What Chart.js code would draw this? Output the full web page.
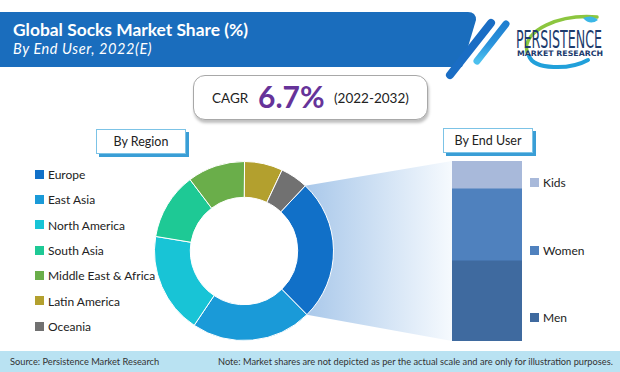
<!DOCTYPE html>
<html><head><meta charset="utf-8">
<script src="https://cdn.jsdelivr.net/npm/chart.js@4.4.1/dist/chart.umd.min.js"></script>
<style>
html,body{margin:0;padding:0;background:#fff;}
#wrap{position:relative;width:620px;height:372px;overflow:hidden;background:#fff;font-family:Lato,'Open Sans',sans-serif;color:#222;}
.abs{position:absolute;}
#title{left:13px;top:19px;color:#fff;font-weight:bold;font-size:17.4px;white-space:nowrap;}
#subtitle{left:13px;top:40px;color:#fff;font-style:italic;font-size:14.5px;letter-spacing:0.6px;white-space:nowrap;}
#cagr{left:193px;top:75px;width:233px;height:43px;border:1.5px solid #a8a8a8;border-radius:12px;box-shadow:1px 3px 3px rgba(0,0,0,0.25);background:#fff;}
#cagr span{position:absolute;white-space:nowrap;}
.tag{background:#fff;border:1px solid #7cc3e6;box-shadow:3px 3px 0 #3a9ed6;font-size:12.5px;text-align:center;line-height:23px;height:23px;color:#222;}
.leg{position:absolute;white-space:nowrap;font-size:12px;color:#222;}
.leg i{position:absolute;left:0;top:50%;width:9px;height:9px;margin-top:-4.5px;}
.leg b{font-weight:normal;position:absolute;left:13px;top:50%;transform:translateY(-50%);}
#footer{left:0;top:351px;width:620px;height:21px;background:#b9e2f2;font-size:9.25px;color:#333;}
#footer span{position:absolute;top:4.5px;white-space:nowrap;}
canvas{position:absolute;}
</style></head>
<body>
<div id="wrap">
  <svg class="abs" style="left:0;top:0" width="620" height="90">
    <defs>
      <linearGradient id="s2" x1="0" y1="0" x2="0" y2="1">
        <stop offset="0" stop-color="#1f7fd0"/><stop offset="0.55" stop-color="#2a93dc"/><stop offset="1" stop-color="#4cc0ee"/>
      </linearGradient>
    </defs>
    <path d="M0,12 H468 Q476,12 476,20 L462,67 H0 Z" fill="#1a6dbd"/>
    <line x1="491" y1="23" x2="450" y2="75" stroke="#1a6dc4" stroke-width="8" stroke-linecap="round"/>
    <line x1="506" y1="24" x2="477" y2="61" stroke="url(#s2)" stroke-width="7" stroke-linecap="round"/>
    <!-- logo -->
    <path d="M527,52 C522,30 560,14 597,17" fill="none" stroke="#8cc63f" stroke-width="3.5" stroke-linecap="round"/>
    <path d="M583,18 Q592,14 598,20 Q590,26 583,18 Z" fill="#3bb7e6"/>
    <path d="M529,56 C534,70 570,70 588,60" fill="none" stroke="#21a0da" stroke-width="4" stroke-linecap="round"/>
    <text x="516" y="48" font-family="'DejaVu Sans Condensed','DejaVu Sans',sans-serif" font-size="24" fill="#1d3b6d" textLength="86" lengthAdjust="spacingAndGlyphs">PERSISTENCE</text>
    <text x="517" y="56" font-family="'DejaVu Sans',sans-serif" font-weight="bold" font-size="7.5" fill="#1d3b6d" textLength="86" lengthAdjust="spacingAndGlyphs">MARKET RESEARCH</text>
  </svg>
  <div id="title" class="abs">Global Socks Market Share (%)</div>
  <div id="subtitle" class="abs">By End User, 2022(E)</div>

  <div id="cagr" class="abs">
    <span style="left:18px;top:14px;font-size:13.5px;">CAGR</span>
    <span style="left:64px;top:2px;font-size:30px;font-weight:bold;color:#663399;">6.7%</span>
    <span style="left:140px;top:14px;font-size:13.5px;">(2022-2032)</span>
  </div>

  <div class="abs tag" style="left:96px;top:129px;width:88px;">By Region</div>
  <div class="abs tag" style="left:443px;top:128px;width:88px;">By End User</div>

  <div id="legLeft"></div>
  <div id="legRight"></div>

  <canvas id="bar" width="330" height="200" style="left:290px;top:150px;width:330px;height:200px;z-index:1"></canvas>
  <canvas id="donut" width="184" height="184" style="left:152px;top:159px;width:184px;height:184px;z-index:2"></canvas>

  <div id="footer" class="abs">
    <span style="left:10px;">Source: Persistence Market Research</span>
    <span style="left:218px;">Note: Market shares are not depicted as per the actual scale and are only for illustration purposes.</span>
  </div>
</div>
<script>
// ---- data ----
const regions = ['Europe','East Asia','North America','South Asia','Middle East & Africa','Latin America','Oceania'];
const regionShares = [25.6, 21.8, 18.2, 12.1, 10.4, 6.9, 5.0];
const regionColors = ['#1170c8','#1a9ad8','#18c4d6','#1ec995','#6aae4a','#b3a02e','#717171'];

const endUsers = ['Men','Women','Kids'];
const endUserShares = [44.5, 40.0, 15.5];
const endUserColors = ['#3f6a9f','#4f81be','#a8b9da'];
const barCategory = ['End User'];

// ---- legends (HTML text) ----
const legLeft = document.getElementById('legLeft');
regions.forEach((r,i)=>{
  const d=document.createElement('div');
  d.className='leg';
  d.style.left='35px'; d.style.top=(174+i*25.35-8)+'px'; d.style.height='16px'; d.style.width='150px';
  d.innerHTML='<i style="background:'+regionColors[i]+'"></i><b>'+r+'</b>';
  legLeft.appendChild(d);
});
const legRight = document.getElementById('legRight');
const rightRows = {Kids:182, Women:250, Men:317};
endUsers.forEach((u,i)=>{
  const d=document.createElement('div');
  d.className='leg';
  d.style.left='530px'; d.style.top=(rightRows[u]-8)+'px'; d.style.height='16px'; d.style.width='80px';
  d.innerHTML='<i style="background:'+endUserColors[i]+'"></i><b>'+u+'</b>';
  legRight.appendChild(d);
});

// ---- doughnut ----
const donutCanvas = document.getElementById('donut');
const donut = new Chart(donutCanvas, {
  type:'doughnut',
  data:{labels:regions, datasets:[{data:regionShares, backgroundColor:regionColors, borderColor:'#ffffff', borderWidth:1}]},
  options:{
    responsive:false, animation:false, rotation:43.2, cutout:'60%',
    layout:{padding:2},
    plugins:{legend:{display:false}, tooltip:{enabled:false}}
  }
});

// ---- stacked bar with connector wedge ----
const barCanvas = document.getElementById('bar');
const wedgePlugin = {
  id:'wedge',
  beforeDatasetsDraw(chart){
    const arc = donut.getDatasetMeta(0).data[0];
    if(!arc) return;
    const dx = donutCanvas.offsetLeft - barCanvas.offsetLeft;
    const dy = donutCanvas.offsetTop - barCanvas.offsetTop;
    const R = arc.outerRadius;
    const p1 = {x: dx + arc.x + R*Math.cos(arc.startAngle), y: dy + arc.y + R*Math.sin(arc.startAngle)};
    const p2 = {x: dx + arc.x + R*Math.cos(arc.endAngle), y: dy + arc.y + R*Math.sin(arc.endAngle)};
    const topEl = chart.getDatasetMeta(endUsers.length-1).data[0];
    const botEl = chart.getDatasetMeta(0).data[0];
    const left = topEl.x - topEl.width/2;
    const top = topEl.y, bottom = botEl.base;
    const ctx = chart.ctx;
    ctx.save();
    const g = ctx.createLinearGradient(Math.min(p1.x,p2.x),0,left,0);
    g.addColorStop(0,'#a9c8ea'); g.addColorStop(1,'#f6fafe');
    ctx.fillStyle = g;
    ctx.beginPath();
    ctx.moveTo(p1.x,p1.y); ctx.lineTo(left,top); ctx.lineTo(left,bottom); ctx.lineTo(p2.x,p2.y);
    ctx.closePath(); ctx.fill();
    ctx.restore();
  }
};
new Chart(barCanvas, {
  type:'bar',
  data:{labels:barCategory, datasets:endUsers.map((u,i)=>({label:u, data:[endUserShares[i]], backgroundColor:endUserColors[i], borderWidth:0, barPercentage:1, categoryPercentage:1}))},
  options:{
    responsive:false, animation:false,
    layout:{padding:{left:162,right:98,top:11,bottom:9}},
    scales:{x:{display:false, stacked:true}, y:{display:false, stacked:true, min:0, max:100}},
    plugins:{legend:{display:false}, tooltip:{enabled:false}}
  },
  plugins:[wedgePlugin]
});
</script>
</body></html>
